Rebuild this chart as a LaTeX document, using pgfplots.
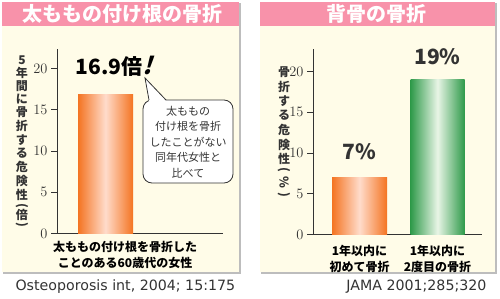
\documentclass[border=0pt]{standalone}
\usepackage{fontspec}
\setmainfont{Noto Sans CJK JP}
\newfontfamily\dv{DejaVu Sans}
\usepackage{pgfplots}
\pgfplotsset{compat=1.18}
\definecolor{hdr}{HTML}{F892AA}
\definecolor{cream}{HTML}{FFFCE8}
\definecolor{shadowc}{HTML}{BDBDBD}
\definecolor{txt}{HTML}{333333}
\definecolor{orD}{HTML}{F47422}
\definecolor{orL}{HTML}{FFDCCB}
\definecolor{grD}{HTML}{2F9A4A}
\definecolor{grL}{HTML}{E8F5E6}
\newcommand{\fs}[2]{\fontsize{#1}{#2}\selectfont\lineskiplimit=-100pt\lineskip=0pt}
\begin{document}
\begin{tikzpicture}[x=1pt,y=1pt]
\useasboundingbox (0,0) rectangle (500,298);
% panels
\fill[shadowc] (3,24.5) rectangle (240.5,295);
\fill[cream] (2,26) rectangle (239,296);
\fill[hdr] (2,272) rectangle (239,296);
\fill[shadowc] (261,24.5) rectangle (496.5,295);
\fill[cream] (260,26) rectangle (495,296);
\fill[hdr] (260,272) rectangle (495,296);
\node[white, font=\bfseries\fs{20}{20}] at (122,284) {太ももの付け根の骨折};
\node[white, font=\bfseries\fs{20}{20}] at (376,284) {背骨の骨折};
% y labels (vertical, one character per node)
\foreach \c/\y in {5/60, 年/73, 間/86, に/99, 骨/112, 折/126, す/140, る/153, 危/167, 険/181, 性/195, 倍/215}
  \node[txt, font=\bfseries\fs{12}{12}, inner sep=0pt] at (22,298-\y) {\c};
\node[txt, font=\bfseries\fs{12}{12}, inner sep=0pt, rotate=-90] at (22,298-206) {(};
\node[txt, font=\bfseries\fs{12}{12}, inner sep=0pt, rotate=-90] at (22,298-225) {)};
\foreach \c/\y in {骨/72, 折/86.5, す/101, る/115.5, 危/130, 険/144.5, 性/159}
  \node[txt, font=\bfseries\fs{12}{12}, inner sep=0pt] at (284,298-\y) {\c};
\node[txt, font=\bfseries\fs{12}{12}, inner sep=0pt, rotate=-90] at (284,298-170) {(};
\node[txt, font=\bfseries\fs{12}{12}, inner sep=0pt, rotate=-90] at (284,298-182) {\%};
\node[txt, font=\bfseries\fs{12}{12}, inner sep=0pt, rotate=-90] at (284,298-195) {)};
% left axis
\begin{axis}[at={(57,78)}, anchor=south west, scale only axis,
  width=166pt, height=185pt, xmin=0, xmax=166, ymin=0, ymax=22.4,
  axis lines=left, axis line style={-, draw=txt, line width=1pt},
  ytick={0,5,10,15,20}, xtick=\empty, tick align=outside,
  major tick length=6pt, tick style={draw=txt, line width=0.8pt},
  yticklabel style={font=\fs{13.5}{14}, text=txt},
  clip=false]
\addplot[ybar, bar width=55pt, draw=none, left color=orD, right color=orD, middle color=orL]
  coordinates {(48.5,16.9)};
\node[font=\bfseries\fs{21}{21}, text=black] at (axis cs:57,20.2) {16.9倍{\addfontfeatures{FakeSlant=0.3}\fs{24}{24}!}};
\node[font=\bfseries\fs{12}{16}, align=center, text=black] at (axis cs:68,0) [yshift=-21pt] {太ももの付け根を骨折した\\ことのある60歳代の女性};
\end{axis}
% callout
\draw[txt, line width=0.8pt, fill=white, rounded corners=9pt] (143,198) rectangle (233,115);
\fill[white] (149,197.2) -- (145,220) -- (166,197.2) -- cycle;
\draw[txt, line width=0.8pt] (149,198) -- (145,220) -- (166,198);
\node[txt, font=\fs{11}{15.6}, align=center] at (188,156) {太ももの\\付け根を骨折\\したことがない\\同年代女性と\\比べて};
% right axis
\begin{axis}[at={(313,78)}, anchor=south west, scale only axis,
  width=169pt, height=185pt, xmin=0, xmax=169, ymin=0, ymax=22.7,
  axis lines=left, axis line style={-, draw=txt, line width=1pt},
  ytick={0,5,10,15,20}, xtick=\empty, tick align=outside,
  major tick length=6pt, tick style={draw=txt, line width=0.8pt},
  yticklabel style={font=\fs{13.5}{14}, text=txt},
  clip=false]
\addplot[ybar, bar width=55pt, draw=none, left color=orD, right color=orD, middle color=orL]
  coordinates {(46.5,7)};
\addplot[ybar, bar width=54pt, draw=none, left color=grD, right color=grD, middle color=grL]
  coordinates {(124.5,19)};
\node[font=\bfseries\fs{21}{21}, text=txt] at (axis cs:46.5,10.1) {7\%};
\node[font=\bfseries\fs{21}{21}, text=txt] at (axis cs:124.5,21.8) {19\%};
\node[font=\bfseries\fs{12}{15.5}, align=center, text=black] at (axis cs:46.5,0) [yshift=-24.5pt] {1年以内に\\初めて骨折};
\node[font=\bfseries\fs{12}{15.5}, align=center, text=black] at (axis cs:124.5,0) [yshift=-24.5pt] {1年以内に\\2度目の骨折};
\end{axis}
% sources
\node[txt, font=\dv\fs{14.2}{15}, anchor=west] at (12,11) {Osteoporosis int, 2004; 15:175};
\node[txt, font=\dv\fs{14.2}{15}, anchor=east] at (490,11) {JAMA 2001;285;320};
\end{tikzpicture}
\end{document}
